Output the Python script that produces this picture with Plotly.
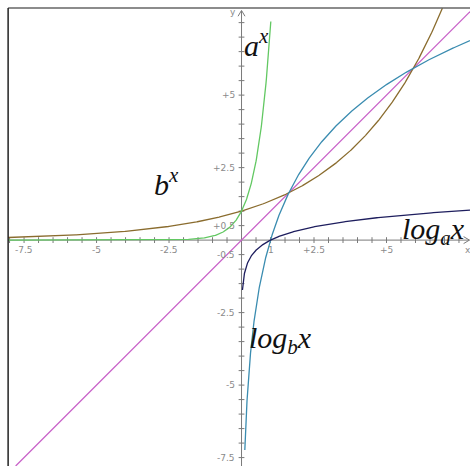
import numpy as np
import plotly.graph_objects as go

# Bases of the two exponential families
A_BASE = 7.39   # steep exponential a^x (a > 1)
B_BASE = 1.35   # shallow exponential b^x, meets y = x twice

# Visible window (data units)
X_MIN, X_MAX = -8.33, 7.88
Y_MIN, Y_MAX = -7.79, 8.28
FRAME_X, FRAME_Y = -8.05, 8.0

# Domains of each curve
A_EXP_DOMAIN = (FRAME_X, 1.01)
B_EXP_DOMAIN = (FRAME_X, 6.93)
LOG_A_DOMAIN = (0.032, X_MAX)
LOG_B_DOMAIN = (0.114, X_MAX)
IDENTITY_DOMAIN = (-7.79, X_MAX)

# Axis tick labels
X_TICK_VALS = [-7.5, -5, -2.5, 1, 2.5, 5]
X_TICK_TEXT = ["-7.5", "-5", "-2.5", "1", "+2.5", "+5"]
Y_TICK_VALS = [5, 2.5, 0.5, -0.5, -2.5, -5, -7.5]
Y_TICK_TEXT = ["+5", "+2.5", "+0.5", "-0.5", "-2.5", "-5", "-7.5"]
TICK_STEP = 0.5

GREEN = "#62c862"
BROWN = "#8a6c2e"
NAVY = "#1e1e5e"
TEAL = "#3a8cb0"
PINK = "#c862c8"
AXIS = "#7a7a7a"

fig = go.Figure()

# Axis lines and minor ticks
tick_x, tick_y = [], []
for t in np.arange(-8.0, X_MAX, TICK_STEP):
    if abs(t) < 1e-9:
        continue
    tick_x += [t, t, None]
    tick_y += [-0.1, 0.1, None]
for t in np.arange(-7.5, 7.9, TICK_STEP):
    if abs(t) < 1e-9:
        continue
    tick_x += [-0.1, 0.1, None]
    tick_y += [t, t, None]
fig.add_trace(go.Scatter(x=tick_x, y=tick_y, mode="lines",
                         line=dict(color=AXIS, width=1), hoverinfo="skip"))
fig.add_trace(go.Scatter(x=[FRAME_X, X_MAX - 0.02], y=[0, 0], mode="lines",
                         line=dict(color=AXIS, width=1), hoverinfo="skip"))
fig.add_trace(go.Scatter(x=[0, 0], y=[Y_MIN, 7.9], mode="lines",
                         line=dict(color=AXIS, width=1), hoverinfo="skip"))
# arrow heads
fig.add_trace(go.Scatter(x=[-0.12, 0, 0.12], y=[7.72, 7.92, 7.72], mode="lines",
                         line=dict(color=AXIS, width=1), hoverinfo="skip"))
fig.add_trace(go.Scatter(x=[X_MAX - 0.22, X_MAX - 0.02, X_MAX - 0.22], y=[0.12, 0, -0.12],
                         mode="lines", line=dict(color=AXIS, width=1), hoverinfo="skip"))

def curve(domain, n=600):
    return np.linspace(domain[0], domain[1], n)

# y = x
xi = curve(IDENTITY_DOMAIN, 2)
fig.add_trace(go.Scatter(x=xi, y=xi, mode="lines", line=dict(color=PINK, width=1.3)))

# b^x and log_b x
xb = curve(B_EXP_DOMAIN)
fig.add_trace(go.Scatter(x=xb, y=B_BASE ** xb, mode="lines", line=dict(color=BROWN, width=1.3)))
xlb = np.geomspace(LOG_B_DOMAIN[0], LOG_B_DOMAIN[1], 600)
fig.add_trace(go.Scatter(x=xlb, y=np.log(xlb) / np.log(B_BASE), mode="lines",
                         line=dict(color=TEAL, width=1.3)))

# a^x and log_a x
xa = curve(A_EXP_DOMAIN)
fig.add_trace(go.Scatter(x=xa, y=A_BASE ** xa, mode="lines", line=dict(color=GREEN, width=1.3)))
xla = np.geomspace(LOG_A_DOMAIN[0], LOG_A_DOMAIN[1], 600)
fig.add_trace(go.Scatter(x=xla, y=np.log(xla) / np.log(A_BASE), mode="lines",
                         line=dict(color=NAVY, width=1.3)))

annotations = []
small = dict(family="DejaVu Sans", size=9, color="#8a8a8a")
for v, t in zip(X_TICK_VALS, X_TICK_TEXT):
    annotations.append(dict(x=v, y=-0.1, text=t, showarrow=False, xanchor="center",
                            yanchor="top", font=small))
for v, t in zip(Y_TICK_VALS, Y_TICK_TEXT):
    annotations.append(dict(x=-0.15, y=v, text=t, showarrow=False, xanchor="right",
                            yanchor="middle", font=small))
annotations.append(dict(x=7.82, y=-0.1, text="x", showarrow=False, xanchor="center",
                        yanchor="top", font=small))
annotations.append(dict(x=-0.12, y=7.85, text="y", showarrow=False, xanchor="right",
                        yanchor="middle", font=small))

big = dict(family="Liberation Serif", size=30, color="#111111")
labels = [
    (0.5, 6.8, "<i>a<sup>x</sup></i>"),
    (-2.6, 2.0, "<i>b<sup>x</sup></i>"),
    (6.62, 0.3, "<i>log<sub>a</sub>x</i>"),
    (1.35, -3.45, "<i>log<sub>b</sub>x</i>"),
]
for x, y, t in labels:
    annotations.append(dict(x=x, y=y, text=t, showarrow=False, font=big))

# Frame lines
shapes = [
    dict(type="line", xref="x", yref="y", x0=FRAME_X, x1=X_MAX, y0=FRAME_Y, y1=FRAME_Y,
         line=dict(color="#666666", width=1.5)),
    dict(type="line", xref="x", yref="y", x0=FRAME_X, x1=FRAME_X, y0=FRAME_Y, y1=Y_MIN,
         line=dict(color="#222222", width=1.5)),
]

fig.update_layout(
    width=470, height=466,
    margin=dict(l=0, r=0, t=0, b=0),
    paper_bgcolor="white", plot_bgcolor="white",
    showlegend=False,
    xaxis=dict(range=[X_MIN, X_MAX], visible=False, fixedrange=True),
    yaxis=dict(range=[Y_MIN, Y_MAX], visible=False, fixedrange=True),
    annotations=annotations,
    shapes=shapes,
)

fig.write_html("out.html")
